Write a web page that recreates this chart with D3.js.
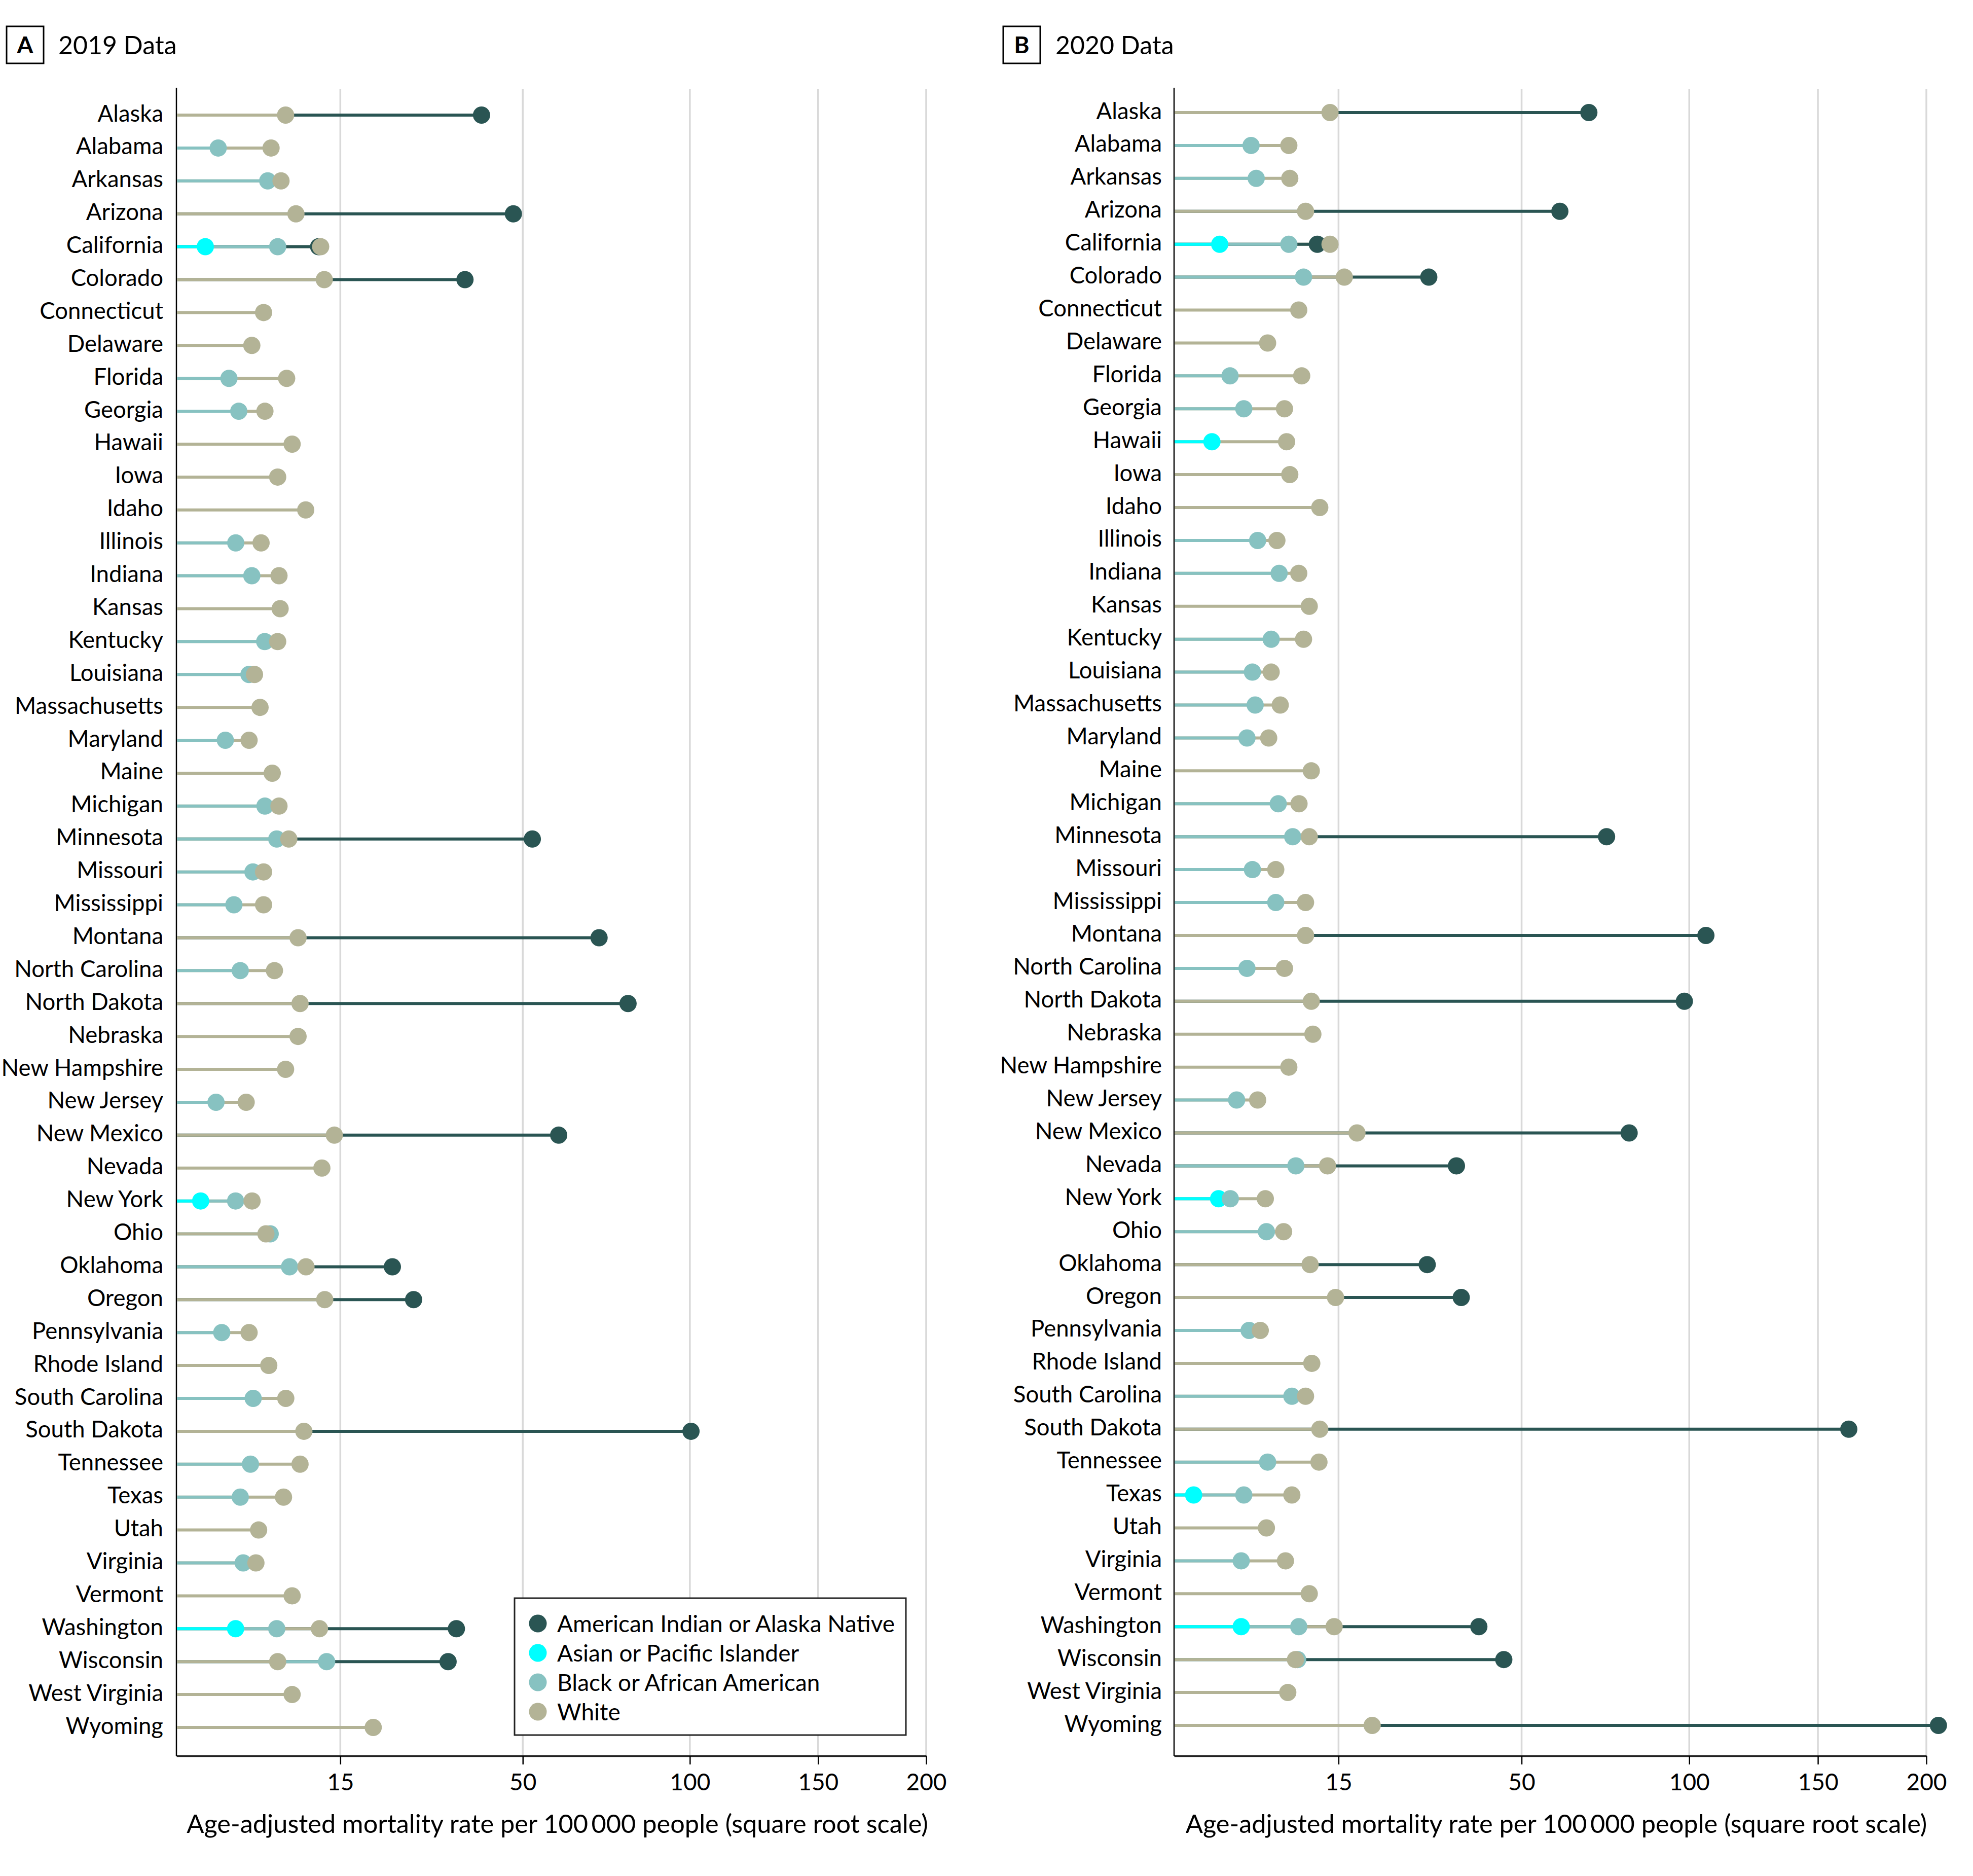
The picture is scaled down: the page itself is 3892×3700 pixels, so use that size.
<!DOCTYPE html>
<html>
<head>
<meta charset="utf-8">
<script src="https://cdn.jsdelivr.net/npm/d3@7"></script>
<style>
  html, body { margin: 0; padding: 0; background: #fff; }
  svg { display: block; }
  text { font-family: Lato, "Open Sans", sans-serif; fill: #000; }
</style>
</head>
<body>
<svg id="chart" width="3892" height="3700"></svg>
<script>
const states = ["Alaska","Alabama","Arkansas","Arizona","California","Colorado","Connecticut","Delaware","Florida","Georgia","Hawaii","Iowa","Idaho","Illinois","Indiana","Kansas","Kentucky","Louisiana","Massachusetts","Maryland","Maine","Michigan","Minnesota","Missouri","Mississippi","Montana","North Carolina","North Dakota","Nebraska","New Hampshire","New Jersey","New Mexico","Nevada","New York","Ohio","Oklahoma","Oregon","Pennsylvania","Rhode Island","South Carolina","South Dakota","Tennessee","Texas","Utah","Virginia","Vermont","Washington","Wisconsin","West Virginia","Wyoming"];

const groups = ["American Indian or Alaska Native","Asian or Pacific Islander","Black or African American","White"];
const groupColors = ["#2a5553","#00ffff","#87c2c1","#b3b396"];
const tickValues = [15, 50, 100, 150, 200];
const axisTitle = "Age-adjusted mortality rate per 100\u2009000 people (square root scale)";

// 2019 values, in state order (null = not shown)
const aian2019 = [40.3,null,null,47.7,12.2,36.7,null,null,null,null,null,null,null,null,null,null,null,null,null,null,null,null,52.4,null,null,70.7,null,79.5,null,null,null,59.3,null,null,null,22.9,26.6,null,null,null,100.4,null,null,null,null,null,34.9,33.2,null,null];
const api2019 = [null,null,null,null,2.27,null,null,null,null,null,null,null,null,null,null,null,null,null,null,null,null,null,null,null,null,null,null,null,null,null,null,null,null,2.03,null,null,null,null,null,null,null,null,null,null,null,null,4.15,null,null,null];
const black2019 = [null,3.0,6.76,null,7.7,null,null,null,3.69,4.38,null,null,null,4.16,5.39,null,6.49,5.16,null,3.45,null,6.51,7.61,5.48,4.03,null,4.49,null,null,null,2.87,null,null,4.15,6.99,8.9,null,3.22,null,5.5,null,5.28,4.49,null,4.71,null,7.61,13.2,null,null];
const white2019 = [8.49,7.07,8.03,9.58,12.45,12.9,6.39,5.39,8.6,6.51,9.17,7.7,10.67,6.17,7.83,7.94,7.7,5.61,6.08,5.17,7.18,7.83,8.82,6.39,6.39,9.81,7.39,10.03,9.81,8.49,4.94,14.2,12.6,5.41,6.6,10.7,12.96,5.17,6.86,8.51,10.46,10.03,8.28,5.96,5.73,9.17,12.3,7.7,9.17,19.8];

// 2020 values, in state order
const aian2020 = [68.0,null,null,59.9,12.27,29.7,null,null,null,null,null,null,null,null,null,null,null,null,null,null,null,null,73.2,null,null,105.9,null,98.3,null,null,null,80.1,35.2,null,null,29.4,36.2,null,null,null,163.5,null,null,null,null,null,40.0,45.7,null,206];
const api2020 = [null,null,null,null,3.23,null,null,null,null,null,2.76,null,null,null,null,null,null,null,null,null,null,null,null,null,null,null,null,null,null,null,null,null,null,3.16,null,null,null,null,null,null,null,null,1.80,null,null,null,4.72,null,null,null];
const black2020 = [null,5.5,5.93,null,9.03,10.64,null,null,3.91,4.92,null,null,null,6.05,8.04,null,7.27,5.61,5.84,5.17,null,7.95,9.44,5.61,7.71,null,5.17,null,null,null,4.38,null,9.78,3.93,6.83,null,null,5.34,null,9.35,null,6.94,4.92,null,4.72,null,10.1,9.98,null,null];
const white2020 = [13.87,9.03,9.13,10.87,13.87,15.79,10.1,6.94,10.43,8.58,8.8,9.13,12.57,7.82,10.1,11.3,10.64,7.27,8.15,7.04,11.54,10.13,11.3,7.71,10.87,10.87,8.58,11.54,11.73,9.03,6.05,17.6,13.55,6.73,8.49,11.4,14.6,6.28,11.6,10.87,12.57,12.47,9.35,6.83,8.68,11.3,14.41,9.74,8.92,19.9];

const svg = d3.select("#chart");

const panels = [
  { letter: "A", title: "2019 Data", series: [aian2019, api2019, black2019, white2019],
    x0: 348, x1: 1827, yFirst: 227, yLast: 3407, labelX: 322,
    boxX: 13, titleX: 115, legend: true },
  { letter: "B", title: "2020 Data", series: [aian2020, api2020, black2020, white2020],
    x0: 2316, x1: 3800, yFirst: 222, yLast: 3403, labelX: 2292,
    boxX: 1979, titleX: 2082, legend: false }
];

const axisTop = 173, axisBottom = 3463;

panels.forEach(p => {
  const g = svg.append("g");
  const x = d3.scaleSqrt().domain([1, 200]).range([p.x0, p.x1]);
  const y = d3.scalePoint().domain(states).range([p.yFirst, p.yLast]);

  // title
  g.append("rect").attr("x", p.boxX).attr("y", 52).attr("width", 73).attr("height", 73)
    .attr("fill", "none").attr("stroke", "#000").attr("stroke-width", 3);
  g.append("text").attr("x", p.boxX + 36.5).attr("y", 105).attr("text-anchor", "middle")
    .attr("font-size", 46).attr("font-weight", "bold").text(p.letter);
  g.append("text").attr("x", p.titleX).attr("y", 107).attr("font-size", 50).text(p.title);

  // gridlines
  g.append("g").selectAll("line").data(tickValues).join("line")
    .attr("x1", d => x(d)).attr("x2", d => x(d))
    .attr("y1", 176).attr("y2", axisBottom)
    .attr("stroke", "#d9d9d9").attr("stroke-width", 3.5);

  // bottom axis
  const ax = g.append("g").attr("transform", `translate(0,${axisBottom})`)
    .call(d3.axisBottom(x).tickValues(tickValues).tickFormat(d3.format("d"))
      .tickSize(17).tickSizeOuter(0).tickPadding(18));
  ax.select(".domain").attr("stroke", "#222").attr("stroke-width", 3.5);
  ax.selectAll(".tick line").attr("stroke", "#000").attr("stroke-width", 2.5);
  ax.selectAll(".tick text").attr("font-size", 46).attr("font-family", "Lato, sans-serif").attr("fill", "#000");

  // left axis line
  g.append("line").attr("x1", p.x0).attr("x2", p.x0).attr("y1", axisTop).attr("y2", axisBottom)
    .attr("stroke", "#000").attr("stroke-width", 2.5);

  // axis title
  g.append("text").attr("x", (p.x0 + p.x1) / 2 + 12).attr("y", 3615)
    .attr("text-anchor", "middle").attr("font-size", 50.5).text(axisTitle);

  // state labels
  g.append("g").selectAll("text").data(states).join("text")
    .attr("x", p.labelX).attr("y", d => y(d) + 12.5)
    .attr("text-anchor", "end").attr("font-size", 45.5).text(d => d);

  // rows
  states.forEach((s, i) => {
    const pts = [];
    p.series.forEach((arr, k) => { if (arr[i] != null) pts.push({ v: arr[i], k }); });
    const row = g.append("g");
    // lines, longest first so shorter ones sit on top
    pts.slice().sort((a, b) => b.v - a.v).forEach(pt => {
      row.append("line").attr("x1", p.x0 + 1).attr("x2", x(pt.v))
        .attr("y1", y(s)).attr("y2", y(s))
        .attr("stroke", groupColors[pt.k]).attr("stroke-width", 6);
    });
    // dots, in legend order
    pts.forEach(pt => {
      row.append("circle").attr("cx", x(pt.v)).attr("cy", y(s)).attr("r", 17)
        .attr("fill", groupColors[pt.k]);
    });
  });

  if (p.legend) {
    const lg = g.append("g");
    lg.append("rect").attr("x", 1015).attr("y", 3152).attr("width", 772).attr("height", 270)
      .attr("fill", "#fff").attr("stroke", "#222").attr("stroke-width", 3);
    const ly = d3.scalePoint().domain(groups).range([3202, 3376]);
    groups.forEach((gname, k) => {
      lg.append("circle").attr("cx", 1061).attr("cy", ly(gname)).attr("r", 17.5).attr("fill", groupColors[k]);
      lg.append("text").attr("x", 1099).attr("y", ly(gname) + 16.5).attr("font-size", 46).text(gname);
    });
  }
});
</script>
</body>
</html>
